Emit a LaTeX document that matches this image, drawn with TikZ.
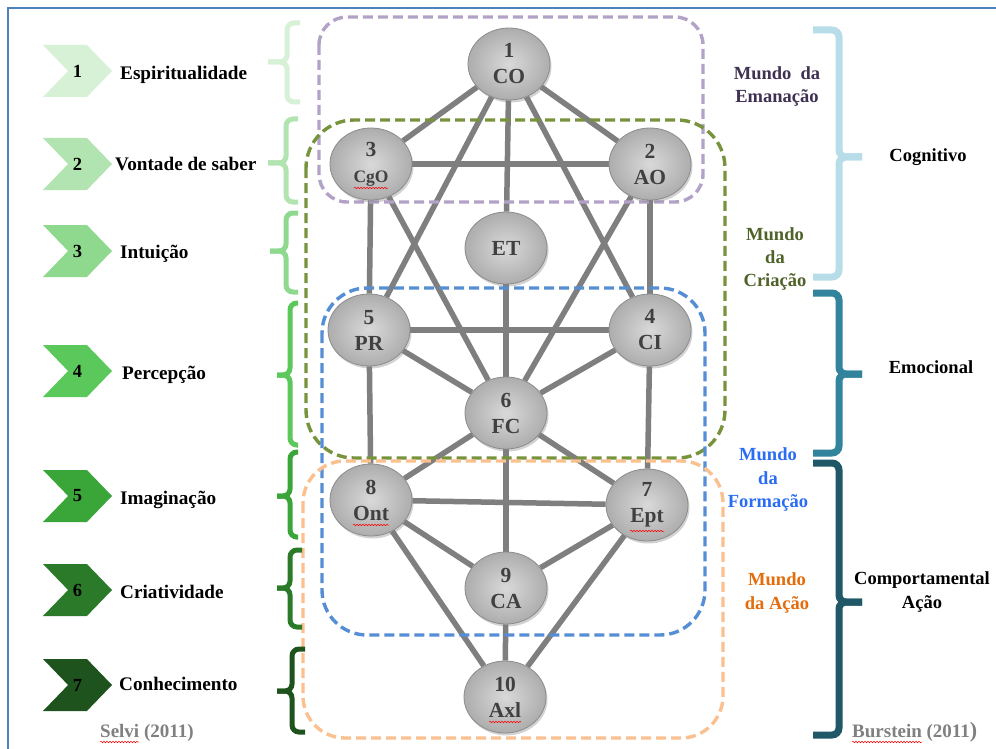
\documentclass[tikz,border=0pt]{standalone}
\usepackage{fontspec}
\setmainfont{Liberation Serif}
\usetikzlibrary{shapes.geometric,shapes.symbols,shadows,backgrounds,decorations.pathmorphing}

% palette
\definecolor{frameblue}{HTML}{4F81BD}
\definecolor{edgegray}{HTML}{7F7F7F}
\definecolor{sefLight}{HTML}{D9D9D9}
\definecolor{sefDark}{HTML}{ADADAD}
\definecolor{sefRim}{HTML}{8C8C8C}
\definecolor{sefText}{HTML}{404040}
\definecolor{gOne}{HTML}{D7F1D7}
\definecolor{gTwo}{HTML}{B1E4B1}
\definecolor{gThree}{HTML}{8FD98F}
\definecolor{gFour}{HTML}{5AC85A}
\definecolor{gFive}{HTML}{3AA63A}
\definecolor{gSix}{HTML}{2A7A2A}
\definecolor{gSeven}{HTML}{1E531E}
\definecolor{cogBlue}{HTML}{B7DDE8}
\definecolor{emoTeal}{HTML}{31849B}
\definecolor{compTeal}{HTML}{215868}
\definecolor{boxPurple}{HTML}{B3A2C7}
\definecolor{boxOlive}{HTML}{77933C}
\definecolor{boxBlue}{HTML}{558ED5}
\definecolor{boxOrange}{HTML}{FAC090}
\definecolor{txtPurple}{HTML}{3F3151}
\definecolor{txtOlive}{HTML}{4F6228}
\definecolor{txtBlue}{HTML}{2A6DF4}
\definecolor{txtOrange}{HTML}{E46C0A}
\definecolor{creditGray}{HTML}{808080}

\tikzset{
  sefira/.style={ellipse, minimum width=82pt, minimum height=72pt, inner sep=0pt,
    inner color=sefLight, outer color=sefDark, draw=sefRim, line width=0.8pt,
    drop shadow={opacity=0.35, shadow xshift=1.5pt, shadow yshift=-2.5pt},
    text=sefText, font=\fontsize{21.5}{26}\selectfont\bfseries, align=center},
  link/.style={draw=edgegray, line width=5.5pt},
  worldbox/.style={line width=3.4pt, dash pattern=on 10pt off 5pt},
  chev/.style={signal, signal from=west, signal to=east, signal pointer angle=92,
    minimum width=69pt, minimum height=52pt, inner sep=0pt,
    font=\fontsize{18.5}{22}\selectfont\bfseries, text=black},
  lbl/.style={anchor=base west, inner sep=0pt, font=\fontsize{19.2}{22}\selectfont\bfseries},
  rlbl/.style={anchor=base, inner sep=0pt, font=\fontsize{18.5}{22}\selectfont\bfseries},
  credit/.style={anchor=base west, inner sep=0pt, text=creditGray,
    font=\fontsize{19}{22}\selectfont\bfseries},
  bracestroke/.style={rounded corners=7pt},
  squiggle/.style={draw=red, line width=0.5pt,
    decorate, decoration={snake, amplitude=0.8pt, segment length=3pt}},
}

% brace: #1 colour, #2 tip x, #3 bar x, #4 arm x, #5 top y, #6 tip y, #7 bottom y, #8 width
\newcommand\brc[8]{%
  \draw[bracestroke, draw=#1, line width=#8] (#4,#5) -- (#3,#5) -- (#3,#6) -- (#2,#6);
  \draw[bracestroke, draw=#1, line width=#8] (#2,#6) -- (#3,#6) -- (#3,#7) -- (#4,#7);}

\begin{document}
\begin{tikzpicture}[x=1pt,y=-1pt]
\useasboundingbox (0,0) rectangle (996,749);

% frame
\draw[frameblue, line width=2.5pt] (8,749) -- (8,8) -- (996,8);

% the ten sefirot and Da'at
\node[sefira] (n1)  at (509,64)  {1\\CO};
\node[sefira] (n2)  at (650,164) {2\\AO};
\node[sefira] (n3)  at (371,164) {3\\\fontsize{17.5}{20}\selectfont CgO};
\node[sefira] (et)  at (506,248) {ET};
\node[sefira] (n4)  at (650,330) {4\\CI};
\node[sefira] (n5)  at (369,330) {5\\PR};
\node[sefira] (n6)  at (506,413) {6\\FC};
\node[sefira] (n7)  at (647,505) {7\\Ept};
\node[sefira] (n8)  at (371,500) {8\\Ont};
\node[sefira] (n9)  at (506,588) {9\\CA};
\node[sefira] (n10) at (505,697) {10\\Axl};

% spelling marks under some labels
\draw[squiggle] ([shift={(-17,24)}]n3.center) -- ([shift={(17,24)}]n3.center);
\draw[squiggle] ([shift={(-18,25)}]n8.center) -- ([shift={(18,25)}]n8.center);
\draw[squiggle] ([shift={(-17,26)}]n7.center) -- ([shift={(17,26)}]n7.center);
\draw[squiggle] ([shift={(-16,25)}]n10.center) -- ([shift={(16,25)}]n10.center);

% stages on the left
\node[chev, fill=gOne]   (c1) at (77.5,71)  {1};
\node[chev, fill=gTwo]   (c2) at (77.5,164) {2};
\node[chev, fill=gThree] (c3) at (77.5,251) {3};
\node[chev, fill=gFour]  (c4) at (77.5,371) {4};
\node[chev, fill=gFive]  (c5) at (77.5,496) {5};
\node[chev, fill=gSix]   (c6) at (77.5,590) {6};
\node[chev, fill=gSeven] (c7) at (77.5,685) {7};

\node[lbl] (l1) at (120,80)  {Espiritualidade};
\node[lbl] (l2) at (115,171) {Vontade de saber};
\node[lbl] (l3) at (120,258) {Intuição};
\node[lbl] (l4) at (122,379) {Percepção};
\node[lbl] (l5) at (120,504) {Imaginação};
\node[lbl] (l6) at (120,598) {Criatividade};
\node[lbl] (l7) at (119,690) {Conhecimento};

\brc{gOne}{268}{287}{300}{23}{62}{102}{5pt}
\brc{gTwo}{268}{286}{298}{119}{163}{202}{5pt}
\brc{gThree}{270}{286}{298}{213}{251}{292}{5pt}
\brc{gFour}{277}{290}{298}{303}{375}{445}{5pt}
\brc{gFive}{277}{290}{298}{452}{496}{537}{5pt}
\brc{gSix}{277}{290}{302}{550}{588}{627}{5pt}
\brc{gSeven}{277}{292}{305}{649}{691}{732}{5pt}

% worlds
\node[rlbl, text=txtPurple] (w1a) at (777,80)  {Mundo\ \ da};
\node[rlbl, text=txtPurple] (w1b) at (777,103) {Emanação};
\node[rlbl, text=txtOlive]  (w2a) at (775,240) {Mundo};
\node[rlbl, text=txtOlive]  (w2b) at (775,263) {da};
\node[rlbl, text=txtOlive]  (w2c) at (775,286) {Criação};
\node[rlbl, text=txtBlue]   (w3a) at (768,460) {Mundo};
\node[rlbl, text=txtBlue]   (w3b) at (768,484) {da};
\node[rlbl, text=txtBlue]   (w3c) at (768,507) {Formação};
\node[rlbl, text=txtOrange] (w4a) at (777,585) {Mundo};
\node[rlbl, text=txtOrange] (w4b) at (777,609) {da Ação};

% domains on the right
\brc{cogBlue}{862}{839}{813}{30}{157}{277}{7pt}
\brc{emoTeal}{862}{839}{813}{293}{374}{453}{7pt}
\brc{compTeal}{862}{839}{813}{463}{602}{735}{7pt}

\node[rlbl] (d1)  at (928,161) {Cognitivo};
\node[rlbl] (d2)  at (931,373) {Emocional};
\node[rlbl] (d3a) at (922,584) {Comportamental};
\node[rlbl] (d3b) at (922,608) {Ação};

% sources
\node[credit] (s1) at (100,737) {Selvi (2011)};
\node[credit] (s2) at (852,737) {Burstein (2011\fontsize{22}{22}\selectfont)};
\draw[squiggle] ([shift={(0,5)}]s1.base west) -- ++(39,0);
\draw[squiggle] ([shift={(0,5)}]s2.base west) -- ++(70,0);

\begin{scope}[on background layer]
  \fill[white] (0,0) rectangle (996,749);
  % paths of the tree
  \draw[link] (n1) -- (n3);
  \draw[link] (n1) -- (n2);
  \draw[link] (n1) -- (et);
  \draw[link] (n1) -- (n5);
  \draw[link] (n1) -- (n4);
  \draw[link] (n3) -- (n2);
  \draw[link] (n3) -- (n5);
  \draw[link] (n3) -- (n6);
  \draw[link] (n2) -- (n4);
  \draw[link] (n2) -- (n6);
  \draw[link] (et) -- (n6);
  \draw[link] (n5) -- (n4);
  \draw[link] (n5) -- (n6);
  \draw[link] (n4) -- (n6);
  \draw[link] (n5) -- (n8);
  \draw[link] (n4) -- (n7);
  \draw[link] (n6) -- (n8);
  \draw[link] (n6) -- (n7);
  \draw[link] (n6) -- (n9);
  \draw[link] (n8) -- (n7);
  \draw[link] (n8) -- (n9);
  \draw[link] (n7) -- (n9);
  \draw[link] (n8) -- (n10);
  \draw[link] (n7) -- (n10);
  \draw[link] (n9) -- (n10);
  % the four worlds
  \draw[worldbox, draw=boxPurple, rounded corners=28pt] (319,17) rectangle (703,202);
  \draw[worldbox, draw=boxOlive, rounded corners=48pt] (306,120) rectangle (725,458);
  \draw[worldbox, draw=boxBlue, rounded corners=45pt] (322,288) rectangle (705,635);
  \draw[worldbox, draw=boxOrange, rounded corners=42pt] (303,461) rectangle (723,738);
\end{scope}
\end{tikzpicture}
\end{document}
